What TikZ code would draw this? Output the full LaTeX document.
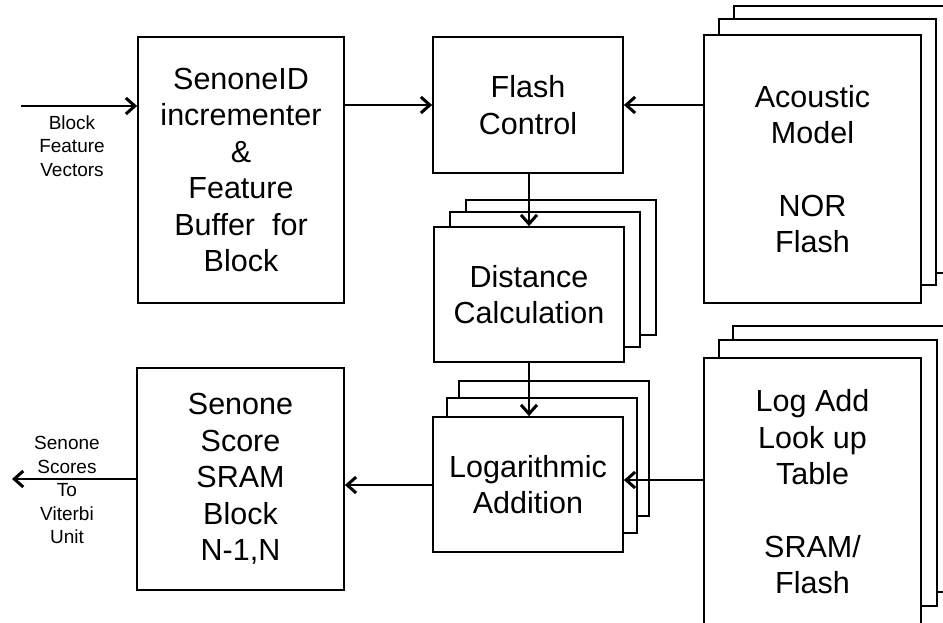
\documentclass[tikz,border=0pt]{standalone}
\usepackage{fontspec}
\setmainfont{Liberation Sans}
\usetikzlibrary{arrows.meta}
\begin{document}
\begin{tikzpicture}[x=1pt,y=-1pt,
  box/.style={draw, line width=1.8pt, fill=white, inner sep=0pt, align=center, font=\fontsize{30.5}{36.5}\selectfont},
  layer/.style={draw, line width=1.8pt, fill=white},
  conn/.style={line width=1.8pt, -{Straight Barb[length=9pt,width=16pt,line width=3pt]}},
  small/.style={align=center, font=\fontsize{19}{23.5}\selectfont}
]
\clip (0,0) rectangle (943,623);
\fill[white] (0,0) rectangle (943,623);

% stacked layers (behind)
\draw[layer] (734,6) rectangle (951,273);
\draw[layer] (719,19) rectangle (936,285);
\draw[layer] (733,326) rectangle (951,592);
\draw[layer] (719,340) rectangle (937,606);
\draw[layer] (466,200) rectangle (656,335);
\draw[layer] (450,212) rectangle (640,347);
\draw[layer] (459,381) rectangle (649,516);
\draw[layer] (447,398) rectangle (637,533);

% main boxes
\node[box, minimum width=206pt, minimum height=266pt] (sid) at (241,170)
  {SenoneID\\incrementer\\\&\\Feature\\Buffer~ for\\Block};
\node[box, minimum width=190pt, minimum height=136pt] (fc) at (528,105)
  {Flash\\Control};
\node[box, minimum width=217pt, minimum height=268pt] (am) at (812.5,169)
  {Acoustic\\Model\\[36pt]NOR\\Flash};
\node[box, minimum width=190pt, minimum height=135pt] (dc) at (529,294.5)
  {Distance\\Calculation};
\node[box, minimum width=190pt, minimum height=135pt] (la) at (528,484.5)
  {Logarithmic\\Addition};
\node[box, minimum width=217pt, minimum height=268pt] (lt) at (812.5,492)
  {Log Add\\Look up\\Table\\[36pt]SRAM/\\Flash};
\node[box, minimum width=207pt, minimum height=222pt] (ss) at (240.5,479)
  {Senone\\Score\\SRAM\\Block\\N-1,N};

% side labels
\node[small] (inlab) at (72,146) {Block\\Feature\\Vectors};
\node[small] (outlab) at (67,490) {Senone\\Scores\\To\\Viterbi\\Unit};

% free ends
\coordinate (in) at (21,106);
\coordinate (out) at (12,479);

% connectors
\draw[conn] (in) -- (in -| sid.west);
\draw[conn] (sid.east |- fc.west) -- (fc.west);
\draw[conn] (fc.east -| am.west) -- (fc.east);
\draw[conn] (fc.south -| dc.north) -- (dc.north);
\draw[conn] (dc.south) -- (dc.south |- la.north);
\draw[conn] (lt.west |- 0,480) -- (la.east |- 0,480);
\draw[conn] (la.west |- 0,485) -- (ss.east |- 0,485);
\draw[conn] (ss.west) -- (out);
\end{tikzpicture}
\end{document}
